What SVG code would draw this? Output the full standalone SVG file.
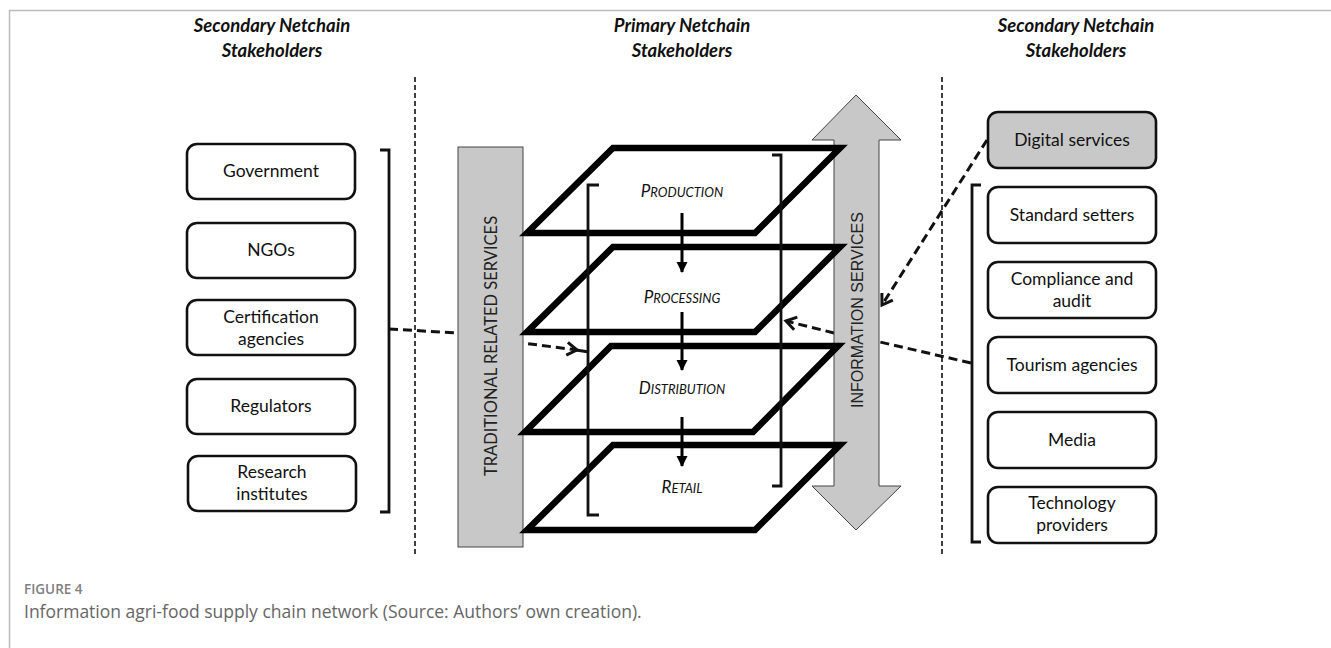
<svg xmlns="http://www.w3.org/2000/svg" width="1331" height="648" viewBox="0 0 1331 648">
<style>
.frame{fill:none;stroke:#bbb;stroke-width:1.5}
.hdr{font-family:Lato,"Liberation Sans",sans-serif;font-weight:bold;font-style:italic;font-size:18.5px;fill:#111;text-anchor:middle}
.vdash{fill:none;stroke:#111;stroke-width:1.6;stroke-dasharray:5 3}
.box{fill:#fff;stroke:#111;stroke-width:2.6}
.gbox{fill:#c8c8c8;stroke:#111;stroke-width:2.6}
.bt{font-family:Lato,"Liberation Sans",sans-serif;font-size:17.5px;fill:#111;text-anchor:middle}
.brk{fill:none;stroke:#111;stroke-width:2.8}
.conn{fill:none;stroke:#111;stroke-width:3;stroke-dasharray:9 5}
.gray{fill:#c8c8c8;stroke:#444;stroke-width:1}
.layer{fill:none;stroke:#000;stroke-width:6.5;stroke-linejoin:miter;stroke-miterlimit:10}
.flow{stroke:#000;stroke-width:3}
.lt{font-family:Lato,"Liberation Sans",sans-serif;font-style:italic;font-size:17px;fill:#111;text-anchor:middle}
.cap1{font-family:"Open Sans","Liberation Sans",sans-serif;font-size:13.5px;font-weight:600;fill:#808080}
.cap2{font-family:"Open Sans","Liberation Sans",sans-serif;font-size:17.5px;font-weight:400;fill:#666}
</style>
<defs>
<marker id="chev" markerUnits="userSpaceOnUse" markerWidth="16" markerHeight="16" refX="12" refY="8" orient="auto" viewBox="0 0 16 16">
<path d="M2,1.5 L12,8 L2,14.5" fill="none" stroke="#111" stroke-width="3"/>
</marker>
<marker id="tri" markerUnits="userSpaceOnUse" markerWidth="12" markerHeight="12" refX="10" refY="6" orient="auto" viewBox="0 0 12 12">
<path d="M0,0.5 L11,6 L0,11.5 Z" fill="#000"/>
</marker>
</defs>
<rect width="1331" height="648" fill="#fff"/>
<path class="frame" d="M9.5,648 V10.5 H1331"/>

<g id="headers">
<text class="hdr" x="272" y="32">Secondary Netchain</text>
<text class="hdr" x="272" y="57">Stakeholders</text>
<text class="hdr" x="682" y="32">Primary Netchain</text>
<text class="hdr" x="682" y="57">Stakeholders</text>
<text class="hdr" x="1076" y="32">Secondary Netchain</text>
<text class="hdr" x="1076" y="57">Stakeholders</text>
</g>
<g id="dividers">
<line class="vdash" x1="415" y1="77" x2="415" y2="557"/>
<line class="vdash" x1="942" y1="77" x2="942" y2="557"/>
</g>

<g id="connectors">
<path class="conn" d="M389,329 L458,333 L523,343 L577,350" marker-end="url(#chev)"/>
<path class="conn" d="M576,350 L589,352" style="stroke-dasharray:none"/>
<path class="conn" d="M971,363 L880,342 L834,333 L786,321" marker-end="url(#chev)"/>
<path class="conn" d="M987,140 L882,305" marker-end="url(#chev)"/>
</g>

<g id="left-group">
<g id="n-government"><rect class="box" x="187" y="144" width="168" height="55" rx="10"/><text class="bt" x="271" y="177">Government</text></g>
<g id="n-ngos"><rect class="box" x="187" y="223" width="168" height="55" rx="10"/><text class="bt" x="271" y="256">NGOs</text></g>
<g id="n-cert"><rect class="box" x="187" y="300" width="168" height="55" rx="10"/><text class="bt" x="271" y="323">Certification</text><text class="bt" x="271" y="345">agencies</text></g>
<g id="n-regulators"><rect class="box" x="187" y="379" width="168" height="55" rx="10"/><text class="bt" x="271" y="412">Regulators</text></g>
<g id="n-research"><rect class="box" x="188" y="456" width="168" height="55" rx="10"/><text class="bt" x="272" y="478">Research</text><text class="bt" x="272" y="500">institutes</text></g>
<path class="brk" d="M380,150 H389 V512 H380"/>
</g>

<g id="right-group">
<g id="n-digital"><rect class="gbox" x="988" y="112" width="168" height="56" rx="10"/><text class="bt" x="1072" y="146">Digital services</text></g>
<g id="n-standard"><rect class="box" x="988" y="187" width="168" height="56" rx="10"/><text class="bt" x="1072" y="221">Standard setters</text></g>
<g id="n-compliance"><rect class="box" x="988" y="262" width="168" height="56" rx="10"/><text class="bt" x="1072" y="285">Compliance and</text><text class="bt" x="1072" y="307">audit</text></g>
<g id="n-tourism"><rect class="box" x="988" y="337" width="168" height="56" rx="10"/><text class="bt" x="1072" y="371">Tourism agencies</text></g>
<g id="n-media"><rect class="box" x="988" y="412" width="168" height="56" rx="10"/><text class="bt" x="1072" y="446">Media</text></g>
<g id="n-tech"><rect class="box" x="988" y="487" width="168" height="56" rx="10"/><text class="bt" x="1072" y="509">Technology</text><text class="bt" x="1072" y="531">providers</text></g>
<path class="brk" d="M981,185 H972 V542 H981"/>
</g>

<g id="traditional-services">
<rect class="gray" x="458" y="147" width="65" height="400"/>
<text transform="translate(497,346) rotate(-90)" text-anchor="middle" font-family="Lato,'Liberation Sans',sans-serif" font-size="16.5" fill="#222">TRADITIONAL RELATED SERVICES</text>
</g>

<g id="information-services">
<polygon class="gray" points="856,95 901,140 879,140 879,486 901,486 856,530 812,486 834,486 834,140 812,140"/>
<text transform="translate(863,310) rotate(-90)" text-anchor="middle" font-family="'Liberation Sans',Arial,sans-serif" font-size="16" fill="#222">INFORMATION SERVICES</text>
</g>

<g id="primary-chain">
<g id="n-production"><polygon class="layer" points="613,148 840,148 755,233 527,233"/><text class="lt" x="682" y="197">P<tspan font-size="13">RODUCTION</tspan></text></g>
<g id="n-processing"><polygon class="layer" points="613,247 840,247 755,332 527,332"/><text class="lt" x="682" y="303">P<tspan font-size="13">ROCESSING</tspan></text></g>
<g id="n-distribution"><polygon class="layer" points="611,346 838,346 753,432 525,432"/><text class="lt" x="682" y="394">D<tspan font-size="13">ISTRIBUTION</tspan></text></g>
<g id="n-retail"><polygon class="layer" points="613,445 840,445 755,530 527,530"/><text class="lt" x="682" y="493">R<tspan font-size="13">ETAIL</tspan></text></g>
<path class="brk" d="M599,185 H588 V515 H599"/>
<path class="brk" d="M772,155 H781 V486 H772"/>
</g>

<g id="flows">
<line class="flow" x1="682" y1="213" x2="682" y2="272" marker-end="url(#tri)"/>
<line class="flow" x1="682" y1="312" x2="682" y2="370" marker-end="url(#tri)"/>
<line class="flow" x1="682" y1="417" x2="682" y2="466" marker-end="url(#tri)"/>
</g>

<g id="caption">
<text class="cap1" x="24" y="594">FIGURE 4</text>
<text class="cap2" x="24" y="618">Information agri-food supply chain network (Source: Authors’ own creation).</text>
</g>
</svg>
